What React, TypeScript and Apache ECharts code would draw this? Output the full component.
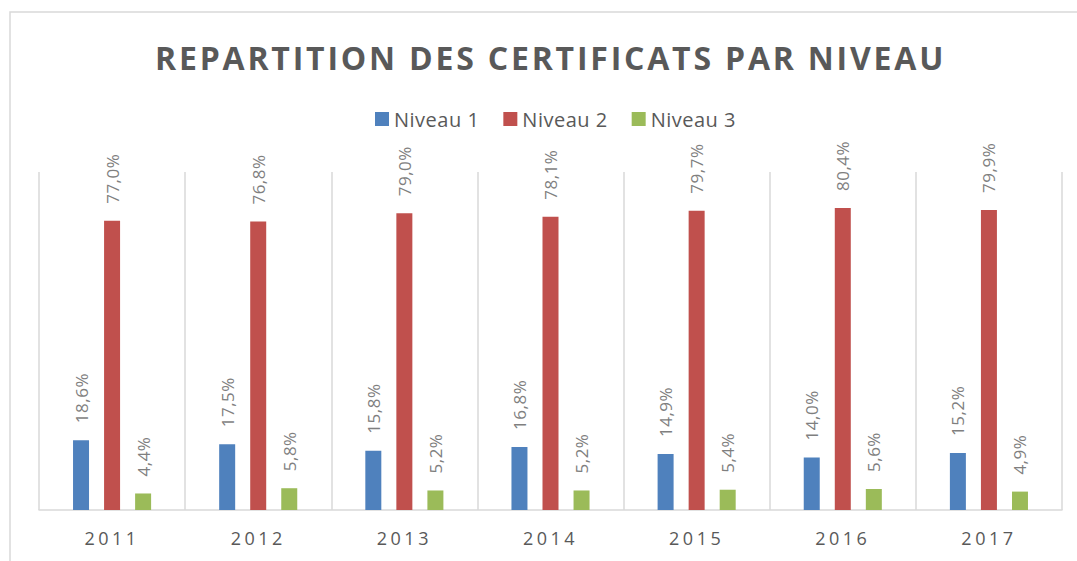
import React, { useEffect, useRef } from "react";
import * as echarts from "echarts";

const years = ["2011", "2012", "2013", "2014", "2015", "2016", "2017"];
const niveau1 = [18.6, 17.5, 15.8, 16.8, 14.9, 14.0, 15.2];
const niveau2 = [77.0, 76.8, 79.0, 78.1, 79.7, 80.4, 79.9];
const niveau3 = [4.4, 5.8, 5.2, 5.2, 5.4, 5.6, 4.9];
const seriesNames = ["Niveau 1", "Niveau 2", "Niveau 3"];
const colors = ["#4f81bd", "#c0504d", "#9bbb59"];
const TITLE = "REPARTITION DES CERTIFICATS PAR NIVEAU";

const FONT = "'Open Sans', sans-serif";

export default function App() {
  const ref = useRef<HTMLDivElement>(null);
  useEffect(() => {
    if (!ref.current) return;
    const el = ref.current;
    const chart = echarts.init(el, null, { renderer: "svg" });
    const fmt = (p: any) => p.value.toFixed(1).replace(".", ",") + "%";
    const mk = (name: string, data: number[], color: string) => ({
      name,
      type: "bar",
      data,
      barWidth: 16,
      barGap: "94%",
      itemStyle: { color },
      label: {
        show: true,
        position: "top",
        rotate: 90,
        align: "left",
        verticalAlign: "middle",
        distance: 17,
        formatter: fmt,
        color: "#7f7f7f",
        fontSize: 17,
        fontFamily: FONT,
      },
    });
    chart.setOption({
      animation: false,
      backgroundColor: "#ffffff",
      color: colors,
      title: {
        text: TITLE,
        left: 150,
        top: 36,
        textStyle: {
          color: "#595959",
          fontSize: 32,
          fontWeight: "bold",
          fontFamily: FONT,
        },
      },
      legend: {
        top: 104,
        left: 370,
        itemWidth: 14,
        itemHeight: 14,
        itemGap: 28,
        icon: "rect",
        textStyle: { color: "#595959", fontSize: 20, fontFamily: FONT },
        data: seriesNames,
      },
      grid: { left: 39, right: 15, top: 172, bottom: 51, containLabel: false },
      xAxis: {
        type: "category",
        data: years,
        axisLine: { lineStyle: { color: "#d9d9d9", width: 1.5 } },
        axisTick: { show: false },
        splitLine: { show: true, lineStyle: { color: "#d9d9d9", width: 1.5 } },
        axisLabel: { color: "#595959", fontSize: 18, fontFamily: FONT, margin: 19 },
      },
      yAxis: {
        type: "value",
        min: 0,
        max: 90,
        show: false,
        splitLine: { show: false },
      },
      graphic: [
        {
          type: "rect",
          shape: { x: 10, y: 12, width: 1100, height: 600 },
          style: { fill: "none", stroke: "#d9d9d9", lineWidth: 1.5 },
          silent: true,
        },
      ],
      series: [
        mk(seriesNames[0], niveau1, colors[0]),
        mk(seriesNames[1], niveau2, colors[1]),
        mk(seriesNames[2], niveau3, colors[2]),
      ],
    });
    const space = () => {
      el.querySelectorAll("text").forEach((t) => {
        const s = (t.textContent || "").trim();
        if (s === TITLE) t.style.letterSpacing = "2.8px";
        else if (years.includes(s)) t.style.letterSpacing = "3.5px";
        else if (seriesNames.includes(s)) t.style.letterSpacing = "0.5px";
        else if (s.endsWith("%")) t.style.letterSpacing = "0.5px";
      });
    };
    space();
    chart.on("finished", space);
    const timer = setTimeout(space, 50);
    return () => {
      clearTimeout(timer);
      chart.dispose();
    };
  }, []);
  return (
    <div
      ref={ref}
      style={{ position: "fixed", left: 0, top: 0, width: 1077, height: 561 }}
    />
  );
}
